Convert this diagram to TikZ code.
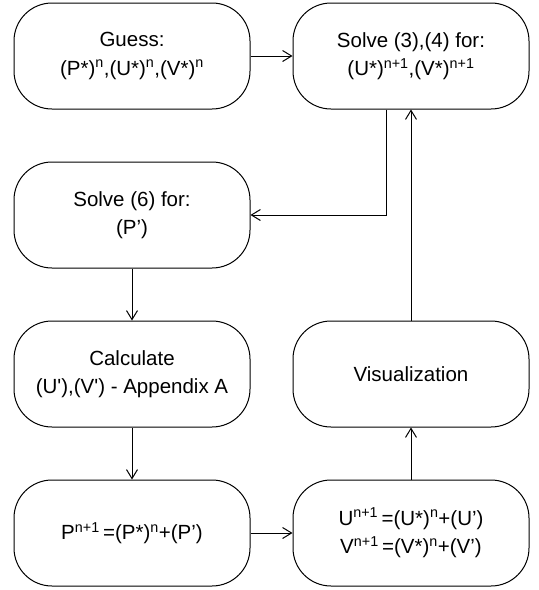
\documentclass[tikz,border=0pt]{standalone}
\usepackage{fontspec}
\newfontfamily\flowfont{Liberation Sans}
\usetikzlibrary{positioning,arrows.meta}

\tikzset{
  stepbox/.style={draw,rounded corners=38pt,minimum width=236pt,minimum height=106pt,
    align=center,inner sep=2pt,font=\flowfont\fontsize{20.5pt}{28.5pt}\selectfont},
}

\begin{document}
\begin{tikzpicture}[>={Straight Barb[length=9pt,width=11pt]},line width=1pt,
    node distance=52pt and 42pt]
  \useasboundingbox (0,0) rectangle (539pt,-590pt);
  % left column of the loop
  \node[stepbox] (guess) at (132pt,-56pt)
    {Guess:\\(P*)\textsuperscript{n},(U*)\textsuperscript{n},(V*)\textsuperscript{n}};
  \node[stepbox,below=of guess] (solvep) {Solve (6) for:\\(P’)};
  \node[stepbox,below=of solvep] (correct) {Calculate\\(U'),(V') - Appendix A};
  \node[stepbox,below=of correct] (newp)
    {P\textsuperscript{n+1}\,=(P*)\textsuperscript{n}+(P’)};
  % right column
  \node[stepbox,right=of guess] (solvestar)
    {Solve (3),(4) for:\\(U*)\textsuperscript{n+1},(V*)\textsuperscript{n+1}};
  \node[stepbox,right=of correct] (visual) {Visualization};
  \node[stepbox,right=of newp] (newuv)
    {U\textsuperscript{n+1}\,=(U*)\textsuperscript{n}+(U’)\\V\textsuperscript{n+1}\,=(V*)\textsuperscript{n}+(V’)};

  \draw [->] (guess) -- (solvestar);
  \draw [->] ([xshift=-25pt]solvestar.south) |- (solvep.east);
  \draw [->] (solvep) -- (correct);
  \draw [->] (correct) -- (newp);
  \draw [->] (newp) -- (newuv);
  \draw [->] (newuv) -- (visual);
  \draw [->] (visual) -- (solvestar);
\end{tikzpicture}
\end{document}
